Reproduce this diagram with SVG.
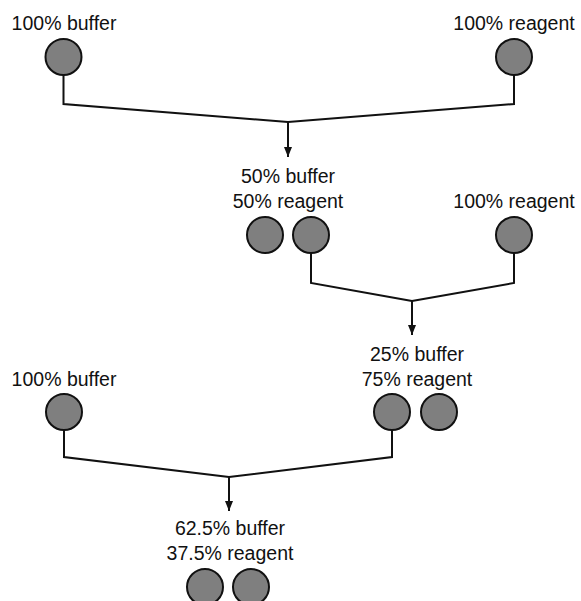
<svg xmlns="http://www.w3.org/2000/svg" width="581" height="601" viewBox="0 0 581 601">
<defs>
<style>
.w{fill:#7f7f7f;stroke:#111;stroke-width:2}
.t{font-family:"Liberation Sans",Arial,sans-serif;font-size:19.5px;fill:#111;text-anchor:middle}
.c{fill:none;stroke:#111;stroke-width:2}
</style>
<marker id="ah" markerUnits="userSpaceOnUse" markerWidth="10" markerHeight="10" viewBox="0 0 10 10" refX="10" refY="5" orient="auto">
<path d="M0,1 L10,5 L0,9 Z" fill="#111"/>
</marker>
</defs>
<rect width="581" height="601" fill="#fff"/>
<g id="connectors">
<path class="c" d="M63.5,75 V104 L288,122"/>
<path class="c" d="M514,75 V104 L288,122"/>
<path class="c" d="M288,122 V157" marker-end="url(#ah)"/>
<path class="c" d="M311,253 V283 L412,301"/>
<path class="c" d="M514,253 V283 L412,301"/>
<path class="c" d="M412,301 V335" marker-end="url(#ah)"/>
<path class="c" d="M64,430 V457 L229,477"/>
<path class="c" d="M392,430 V457 L229,477"/>
<path class="c" d="M229,477 V511" marker-end="url(#ah)"/>
</g>
<g id="n1"><text class="t" x="64" y="30">100% buffer</text><circle class="w" cx="63.5" cy="57" r="18"/></g>
<g id="n2"><text class="t" x="514" y="30">100% reagent</text><circle class="w" cx="514" cy="57" r="18"/></g>
<g id="n3"><text class="t" x="288" y="183">50% buffer</text><text class="t" x="288" y="208">50% reagent</text><circle class="w" cx="265" cy="235" r="18"/><circle class="w" cx="311" cy="235" r="18"/></g>
<g id="n4"><text class="t" x="514" y="208">100% reagent</text><circle class="w" cx="514" cy="235" r="18"/></g>
<g id="n5"><text class="t" x="64" y="386">100% buffer</text><circle class="w" cx="64" cy="412" r="18"/></g>
<g id="n6"><text class="t" x="417" y="361">25% buffer</text><text class="t" x="417" y="386">75% reagent</text><circle class="w" cx="392" cy="412" r="18"/><circle class="w" cx="439" cy="412" r="18"/></g>
<g id="n7"><text class="t" x="230" y="535">62.5% buffer</text><text class="t" x="230" y="560">37.5% reagent</text><circle class="w" cx="205" cy="587" r="18"/><circle class="w" cx="251" cy="587" r="18"/></g>
</svg>
